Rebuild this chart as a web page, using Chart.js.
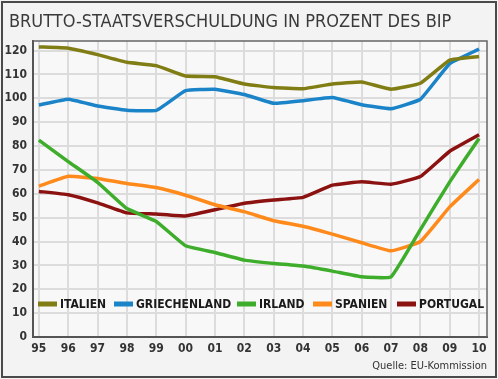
<!DOCTYPE html>
<html><head><meta charset="utf-8">
<script src="https://cdn.jsdelivr.net/npm/chart.js@4/dist/chart.umd.min.js"></script>
<style>html,body{margin:0;padding:0;background:#f3f3f3}#w{width:498px;height:379px;position:relative}</style>
</head><body><div id="w"><canvas id="c" width="498" height="379"></canvas></div>
<script>
const years = ['95','96','97','98','99','00','01','02','03','04','05','06','07','08','09','10'];
const yTicks = [0,10,20,30,40,50,60,70,80,90,100,110,120];
const seriesNames = ['ITALIEN','GRIECHENLAND','IRLAND','SPANIEN','PORTUGAL'];
const italien = [121.5,121.0,118.3,115.1,113.7,109.3,109.0,106.0,104.5,104.0,106.0,106.8,103.8,106.3,116.0,117.5];
const griechenland = [97.2,99.6,96.8,95.0,94.9,103.2,103.8,101.6,97.9,99.0,100.3,97.3,95.6,99.6,114.5,120.6];
const irland = [82.5,73.5,64.8,53.8,48.4,38.2,35.4,32.2,30.8,29.7,27.6,25.2,25.2,45.0,65.0,83.2];
const spanien = [63.2,67.3,66.4,64.3,62.6,59.4,55.4,52.5,48.7,46.4,43.1,39.5,36.1,40.0,54.5,66.0];
const portugal = [61.0,59.6,56.2,52.0,51.5,50.7,53.3,56.0,57.4,58.5,63.6,65.0,64.0,67.2,77.8,84.7];
const colors = ['#807d14','#1b84c9','#3ead2b','#ff8a1c','#8c1212'];
const allValues = [italien, griechenland, irland, spanien, portugal];

const FONT = "'DejaVu Sans Condensed', 'DejaVu Sans', sans-serif";

const bgPlugin = {
  id: 'bg',
  beforeDraw(chart) {
    const ctx = chart.ctx;
    ctx.save();
    ctx.fillStyle = '#f3f3f3';
    ctx.fillRect(0, 0, chart.width, chart.height);
    const a = chart.chartArea;
    ctx.fillStyle = '#f8f8f8';
    ctx.fillRect(a.left, a.top, a.right - a.left, a.bottom - a.top);
    ctx.strokeStyle = '#4a4a4a';
    ctx.lineWidth = 2;
    ctx.strokeRect(2, 2, chart.width - 4, chart.height - 4);
    ctx.fillStyle = '#3a3a3a';
    ctx.font = "18px " + FONT;
    ctx.textBaseline = 'alphabetic';
    ctx.textAlign = 'left';
    ctx.fillText('BRUTTO-STAATSVERSCHULDUNG IN PROZENT DES BIP', 9, 27);
    ctx.restore();
  },
  beforeDatasetsDraw(chart) {
    const ctx = chart.ctx, a = chart.chartArea;
    ctx.save();
    ctx.strokeStyle = '#666';
    ctx.lineWidth = 1.5;
    ctx.beginPath();
    ctx.moveTo(a.left, a.top); ctx.lineTo(a.right, a.top); ctx.lineTo(a.right, a.bottom);
    ctx.stroke();
    ctx.restore();
  },
  afterDatasetsDraw(chart) {
    const ctx = chart.ctx;
    ctx.save();
    const ly = 304;
    const items = [[38,60],[114,136],[237,259],[313,335],[397,419]];
    ctx.font = "bold 12px " + FONT;
    ctx.textBaseline = 'middle';
    ctx.textAlign = 'left';
    chart.data.datasets.forEach((ds, i) => {
      const [sx, tx] = items[i];
      ctx.fillStyle = ds.borderColor;
      ctx.fillRect(sx, ly - 2.5, 19, 5);
      ctx.fillStyle = '#1a1a1a';
      ctx.fillText(ds.label, tx, ly + 1);
    });
    ctx.font = "11px " + FONT;
    ctx.fillStyle = '#333';
    ctx.textAlign = 'right';
    ctx.fillText('Quelle: EU-Kommission', 487, 366);
    ctx.restore();
  }
};

new Chart(document.getElementById('c'), {
  type: 'line',
  data: {
    datasets: seriesNames.map((n, i) => ({
      label: n,
      data: allValues[i].map((v, j) => ({x: j, y: v})),
      borderColor: colors[i],
      backgroundColor: colors[i],
      borderWidth: 3.5,
      pointRadius: 0,
      tension: 0.1,
      fill: false
    }))
  },
  options: {
    responsive: false,
    animation: false,
    devicePixelRatio: 1,
    layout: { padding: { left: 0, right: 11, top: 41, bottom: 0 } },
    plugins: { legend: { display: false }, tooltip: { enabled: false }, title: { display: false } },
    scales: {
      x: {
        type: 'linear',
        min: -0.2, max: 15.27,
        afterFit(s) { s.height = 42; },
        ticks: {
          stepSize: 1, includeBounds: false, autoSkip: false, maxRotation: 0,
          color: '#333', padding: 5,
          font: { family: FONT, size: 12, weight: 'bold' },
          callback: (v) => years[v] !== undefined ? years[v] : ''
        },
        grid: { color: '#dcdcdc', lineWidth: 2, drawTicks: false },
        border: { color: '#555', width: 2 }
      },
      y: {
        min: 0, max: 124,
        afterFit(s) { s.width = 33; },
        afterBuildTicks(s) { s.ticks = yTicks.map(v => ({value: v})); },
        ticks: {
          color: '#333', padding: 6,
          font: { family: FONT, size: 12, weight: 'bold' }
        },
        grid: { color: '#dcdcdc', lineWidth: 2, drawTicks: false },
        border: { color: '#555', width: 2 }
      }
    }
  },
  plugins: [bgPlugin]
});
</script>
</body></html>
